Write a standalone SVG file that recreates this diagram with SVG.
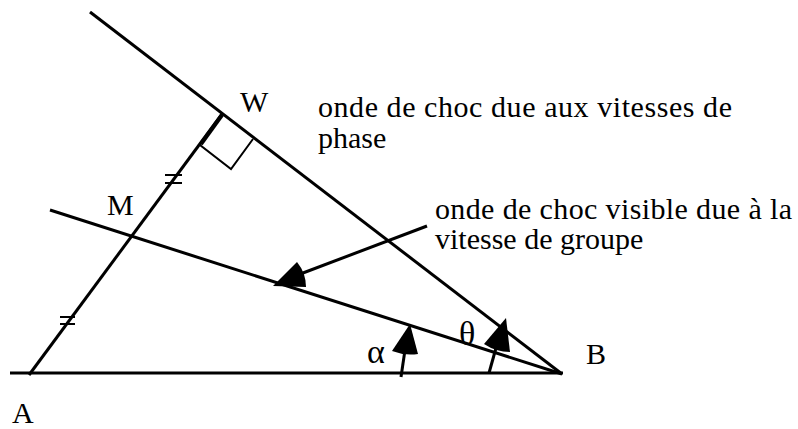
<svg xmlns="http://www.w3.org/2000/svg" width="798" height="429" viewBox="0 0 798 429">
<style>
.ln{stroke:#000;stroke-width:3;fill:none;stroke-linecap:butt}
.thin{stroke:#000;stroke-width:2;fill:none}
.hd{fill:#000;stroke:none}
text{font-family:"Liberation Serif","Times New Roman",serif;font-size:30px;fill:#000}
.gk{font-size:34px}
</style>
<rect width="798" height="429" fill="#fff"/>
<g id="connectors">
<line class="ln" x1="10" y1="373" x2="563" y2="373"/>
<line class="ln" x1="29" y1="375" x2="222" y2="114"/>
<line class="ln" x1="90" y1="12" x2="562" y2="374"/>
<line class="ln" x1="50" y1="210" x2="562" y2="374"/>
<line class="ln" x1="427" y1="226" x2="295" y2="276"/>
<path class="hd" d="M273,286 L297,262 Q306,273 306,287 Z"/>
<line class="ln" x1="401" y1="377" x2="405" y2="350"/>
<path class="hd" d="M410,324 L392,351 Q405,356 418,354 Z"/>
<line class="ln" x1="489" y1="373" x2="496" y2="348"/>
<path class="hd" d="M506,318 L484,344 Q496,352 510,352 Z"/>
<path class="thin" d="M222,115 L200,145 L231,169 L253,139"/>
<line class="ln" x1="222" y1="115" x2="201" y2="144" style="stroke-width:4"/>
<line class="thin" x1="165" y1="175" x2="182" y2="175"/>
<line class="thin" x1="165" y1="183" x2="182" y2="183"/>
<line class="thin" x1="60" y1="317" x2="75" y2="317"/>
<line class="thin" x1="60" y1="324" x2="75" y2="324"/>
</g>
<g id="W"><text x="240" y="112">W</text></g>
<g id="M"><text x="107" y="215">M</text></g>
<g id="A"><text x="12" y="423">A</text></g>
<g id="B"><text x="586" y="364">B</text></g>
<g id="alpha"><text class="gk" x="367" y="363">α</text></g>
<g id="theta"><text class="gk" x="459" y="345">θ</text></g>
<g id="label-phase"><text x="318" y="117" textLength="414" lengthAdjust="spacing">onde de choc due aux vitesses de</text><text x="318" y="148">phase</text></g>
<g id="label-groupe"><text x="435" y="219" textLength="357" lengthAdjust="spacing">onde de choc visible due à la</text><text x="435" y="249">vitesse de groupe</text></g>
</svg>
